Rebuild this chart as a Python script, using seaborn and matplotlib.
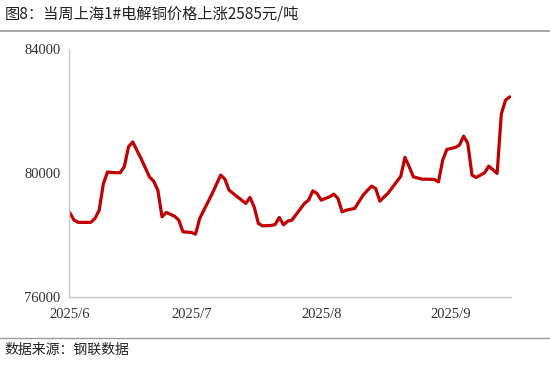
import matplotlib
matplotlib.use("Agg")
import matplotlib.pyplot as plt
from matplotlib.lines import Line2D
import seaborn as sns
import pandas as pd

# Day offsets from 2025-06-01 and price (元/吨)
day_offset = [1, 2, 3, 6, 7, 8, 9, 10, 11, 13, 14, 15, 16, 17, 18, 20, 21, 22, 23, 24,
              26, 27, 28, 30, 31, 32, 35, 37, 38, 39, 41, 43, 44, 45, 46, 47, 49, 50, 51,
              52, 53, 54, 57, 58, 59, 60, 61, 63, 64, 65, 66, 67, 69, 71, 73, 74, 75, 77,
              80, 81, 82, 83, 85, 88, 89, 90, 91, 93, 94, 95, 96, 97, 98, 100, 101, 102,
              103, 104, 105, 106]
price = [78708, 78472, 78400, 78400, 78530, 78790, 79650, 80030, 80010, 80000, 80200,
         80840, 81000, 80730, 80460, 79870, 79730, 79440, 78580, 78720,
         78600, 78470, 78094, 78075, 78020, 78527, 79335, 79926, 79800, 79441, 79225,
         79012, 79205, 78900, 78366, 78288, 78300, 78330, 78560,
         78320, 78440, 78472, 79012, 79118, 79419, 79335, 79118, 79225, 79312, 79173,
         78740, 78795, 78850, 79280, 79570, 79496, 79086, 79350,
         79890, 80500, 80200, 79871, 79797, 79787, 79709, 80410, 80756, 80820, 80895,
         81186, 80950, 79926, 79851, 80000, 80216, 80100,
         79980, 81900, 82348, 82455]

y_ticks = [76000, 80000, 84000]
x_tick_dates = ["2025-06-02", "2025-07-01", "2025-08-01", "2025-09-01"]
x_tick_labels = ["2025/6", "2025/7", "2025/8", "2025/9"]
title = "图8：当周上海1#电解铜价格上涨2585元/吨"
source = "数据来源：钢联数据"

start = pd.Timestamp("2025-06-01")
df = pd.DataFrame({
    "date": start + pd.to_timedelta(day_offset, unit="D"),
    "price": price,
})

sns.set_style("white")
plt.rcParams["font.family"] = ["Liberation Serif", "DejaVu Serif"]

fig = plt.figure(figsize=(5.5, 3.67), dpi=100)
ax = fig.add_axes([0.1255, 0.1916, 0.8035, 0.6749])

sns.lineplot(data=df, x="date", y="price", ax=ax, color="#C00000", linewidth=2.3)

ax.set_ylim(76000, 84000)
ax.set_yticks(y_ticks)
ax.set_yticklabels([str(v) for v in y_ticks])
ax.set_xticks(pd.to_datetime(x_tick_dates))
ax.set_xticklabels(x_tick_labels)
ax.set_xlim(start + pd.Timedelta(days=0.8), start + pd.Timedelta(days=106.3))
ax.set_xlabel("")
ax.set_ylabel("")

for s in ["top", "right"]:
    ax.spines[s].set_visible(False)
for s in ["left", "bottom"]:
    ax.spines[s].set_color("#c8c8c8")
    ax.spines[s].set_linewidth(1.0)

ax.tick_params(axis="both", direction="in", length=4, width=0.8, color="#c8c8c8",
               labelsize=10.5, labelcolor="#333333")
ax.tick_params(axis="x", pad=8)
ax.tick_params(axis="y", pad=6)
for lbl in ax.get_xticklabels() + ax.get_yticklabels():
    lbl.set_fontfamily(["Liberation Serif", "DejaVu Serif"])

cjk = ["Noto Sans CJK SC", "DejaVu Sans"]
fig.text(0.008, 0.962, title, fontsize=11, family=cjk, color="#222222", va="center", ha="left")
fig.add_artist(Line2D([0, 1], [0.916, 0.916], transform=fig.transFigure, color="#9a9a9a", linewidth=1.2))
fig.add_artist(Line2D([0, 1], [0.079, 0.079], transform=fig.transFigure, color="#9a9a9a", linewidth=1.0))
fig.text(0.008, 0.046, source, fontsize=10, family=cjk, color="#222222", va="center", ha="left")

fig.savefig("out.png", dpi=100)
